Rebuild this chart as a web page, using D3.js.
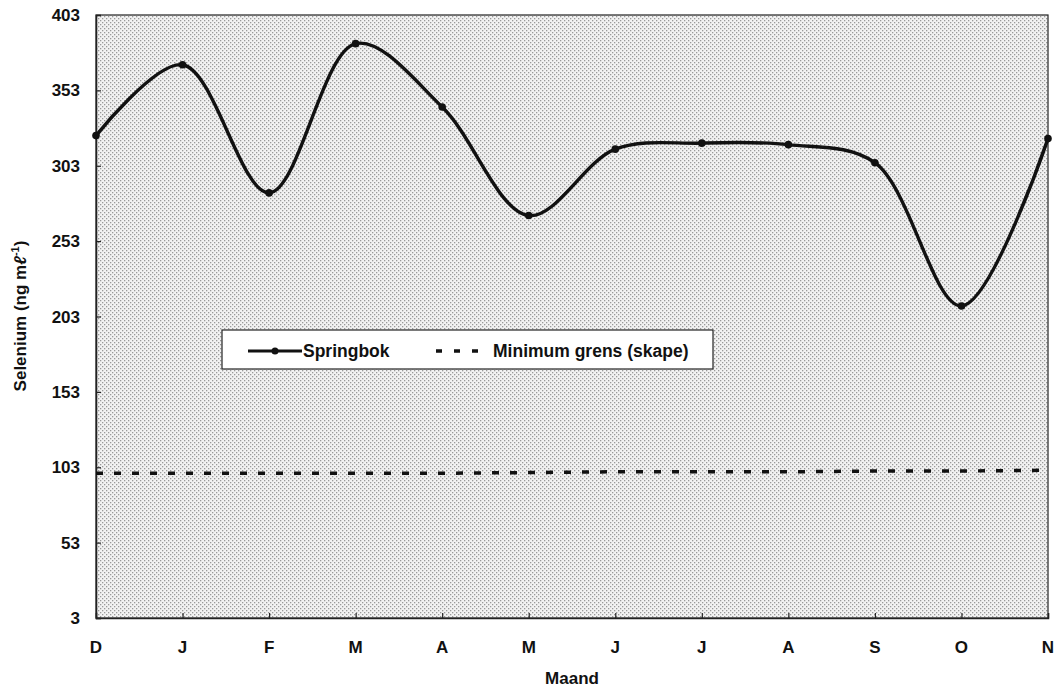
<!DOCTYPE html>
<html><head><meta charset="utf-8">
<script src="https://cdn.jsdelivr.net/npm/d3@7"></script>
<style>body{margin:0;background:#fff}svg{display:block}text{font-family:"Liberation Sans",Arial,sans-serif;font-weight:bold;fill:#111}</style>
</head><body><svg id="c" width="1060" height="692"></svg>
<script>
const months = ["D","J","F","M","A","M","J","J","A","S","O","N"];
const springbok = [323, 370, 285, 384, 342, 270, 314, 318, 317, 305, 210, 321];
const minimum = [99, 99, 99, 99, 99, 99.5, 100, 100, 100, 100.5, 100.5, 101];
const yTicks = [3, 53, 103, 153, 203, 253, 303, 353, 403];

const svg = d3.select("#c");
const m = {l:96, r:1048, t:15, b:618};
const x = d3.scalePoint().domain(d3.range(months.length)).range([m.l, m.r]);
const y = d3.scaleLinear().domain([3, 403]).range([m.b, m.t]);

const defs = svg.append("defs");
const pat = defs.append("pattern").attr("id","dots").attr("patternUnits","userSpaceOnUse").attr("width",4).attr("height",4);
pat.append("rect").attr("width",4).attr("height",4).attr("fill","#f2f2f2");
pat.append("rect").attr("x",0).attr("y",0).attr("width",1.3).attr("height",1.3).attr("fill","#999");
pat.append("rect").attr("x",2).attr("y",2).attr("width",1.3).attr("height",1.3).attr("fill","#999");

svg.append("rect").attr("x",m.l).attr("y",m.t).attr("width",m.r-m.l).attr("height",m.b-m.t)
  .attr("fill","url(#dots)").attr("stroke","#222").attr("stroke-width",1.2);

// axes
const ya = svg.append("g").attr("transform",`translate(${m.l},0)`)
  .call(d3.axisRight(y).tickValues(yTicks).tickSize(5).tickFormat(""));
ya.select(".domain").attr("stroke","#222").attr("stroke-width",1.5);
ya.selectAll(".tick line").attr("stroke","#222").attr("stroke-width",1.2);
svg.append("g").selectAll("text").data(yTicks).join("text")
  .attr("x",80).attr("y",d=>y(d)).attr("dy","0.36em").attr("text-anchor","end")
  .attr("font-size",17).text(d=>d);

const xa = svg.append("g").attr("transform",`translate(0,${m.b})`)
  .call(d3.axisTop(x).tickSize(5).tickFormat(""));
xa.select(".domain").attr("stroke","#222").attr("stroke-width",1.5);
xa.selectAll(".tick line").attr("stroke","#222").attr("stroke-width",1.2);
svg.append("g").selectAll("text").data(months).join("text")
  .attr("x",(d,i)=>x(i)).attr("y",647).attr("dy","0.36em").attr("text-anchor","middle")
  .attr("font-size",17).text(d=>d);

svg.append("text").attr("x",572).attr("y",684).attr("text-anchor","middle").attr("font-size",17).text("Maand");
const yt = svg.append("text").attr("transform","translate(26,316) rotate(-90)").attr("text-anchor","middle").attr("font-size",17);
yt.append("tspan").text("Selenium (ng m");
yt.append("tspan").attr("font-style","italic").text("ℓ");
yt.append("tspan").attr("dy",-7).attr("font-size",11).text("-1");
yt.append("tspan").attr("dy",7).text(")");

// minimum line
svg.append("path").datum(minimum)
  .attr("d", d3.line().x((d,i)=>x(i)).y(d=>y(d)))
  .attr("fill","none").attr("stroke","#111").attr("stroke-width",3.5).attr("stroke-dasharray","7,11");

// springbok line
svg.append("path").datum(springbok)
  .attr("d", d3.line().x((d,i)=>x(i)).y(d=>y(d)).curve(d3.curveCatmullRom.alpha(0.5)))
  .attr("fill","none").attr("stroke","#111").attr("stroke-width",3.4);
svg.append("g").selectAll("circle").data(springbok).join("circle")
  .attr("cx",(d,i)=>x(i)).attr("cy",d=>y(d)).attr("r",3.8).attr("fill","#111");

// legend
const lg = svg.append("g");
lg.append("rect").attr("x",222).attr("y",330).attr("width",491).attr("height",39).attr("fill","#fff").attr("stroke","#222").attr("stroke-width",1.2);
lg.append("line").attr("x1",248).attr("x2",302).attr("y1",351).attr("y2",351).attr("stroke","#111").attr("stroke-width",3);
lg.append("circle").attr("cx",275).attr("cy",351).attr("r",3.5).attr("fill","#111");
lg.append("text").attr("x",303).attr("y",351).attr("dy","0.36em").attr("font-size",17.5).text("Springbok");
lg.append("line").attr("x1",436).attr("x2",485).attr("y1",351).attr("y2",351).attr("stroke","#111").attr("stroke-width",3.5).attr("stroke-dasharray","6,12");
lg.append("text").attr("x",493).attr("y",351).attr("dy","0.36em").attr("font-size",17.5).text("Minimum grens (skape)");
</script></body></html>
